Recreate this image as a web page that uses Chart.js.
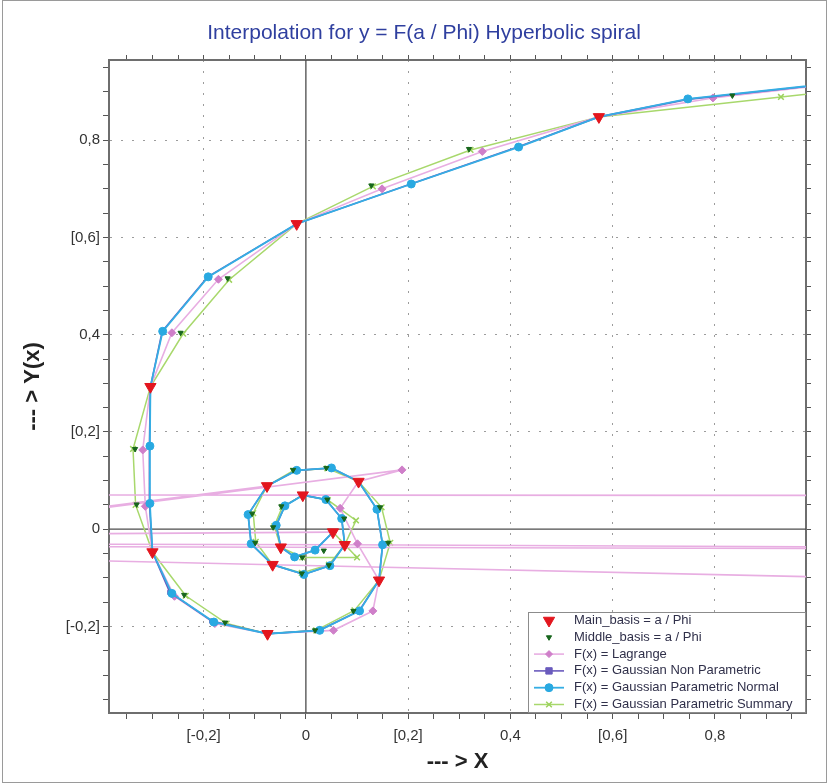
<!DOCTYPE html>
<html>
<head>
<meta charset="utf-8">
<script src="https://cdn.jsdelivr.net/npm/chart.js@4.4.1/dist/chart.umd.min.js"></script>
<style>
  html, body { margin: 0; padding: 0; background: #fff; }
  #wrap { width: 828px; height: 783px; }
</style>
</head>
<body>
<div id="wrap"><canvas id="spiralChart" width="828" height="783"></canvas></div>
<script>
// ============================================
// Interpolation for y = F(a / Phi) - hyperbolic spiral
// ============================================

// main basis points (the first one lies beyond the right edge)
const mainX = [1.742, 0.573, -0.018, -0.304, -0.300, -0.075, 0.143, 0.103, -0.076, -0.065, 0.076, -0.006, -0.049, 0.053];
const mainY = [0.958, 0.848, 0.628, 0.293, -0.047, -0.215, -0.105, 0.098, 0.089, -0.073, -0.032, 0.070, -0.037, -0.006];

// two middle points between each pair of main points
const middleX = [1.194, 0.834, 0.319, 0.128, -0.153, -0.245, -0.334, -0.331, -0.238, -0.158, 0.018, 0.093, 0.161, 0.145, 0.040, -0.025, -0.105, -0.099, -0.008, 0.045, 0.075, 0.042, -0.048, -0.064, -0.007, 0.035];
const middleY = [0.929, 0.892, 0.782, 0.707, 0.516, 0.404, 0.165, 0.051, -0.135, -0.192, -0.208, -0.168, -0.028, 0.045, 0.126, 0.122, 0.032, -0.028, -0.091, -0.074, 0.022, 0.061, 0.047, 0.004, -0.058, -0.044];

// Lagrange estimates (inner ones shoot far out of the window)
const lagrangeX = [1.19, 0.796, 0.345, 0.149, -0.171, -0.262, -0.319, -0.314, -0.257, -0.178, 0.054, 0.131, 0.101, 0.067, 0.188, -3.0, -3.0, -3.0, 3.0, 3.0, -3.0, -3.0, 3.0, 3.0, -3.0, -3.0];
const lagrangeY = [0.935, 0.887, 0.777, 0.700, 0.514, 0.404, 0.163, 0.047, -0.138, -0.194, -0.208, -0.168, -0.030, 0.043, 0.122, -0.305, -0.305, -0.003, -0.145, -0.045, -0.025, 0.072, 0.069, -0.045, -0.030, -0.028];

// Gaussian non parametric estimates
const nonParamX = [1.19, 0.747, 0.414, 0.205, -0.192, -0.281, -0.306, -0.306, -0.266, -0.184, 0.026, 0.104, 0.150, 0.139, 0.050, -0.018, -0.113, -0.107, -0.004, 0.047, 0.070, 0.039, -0.041, -0.058, -0.022, 0.018];
const nonParamY = [0.935, 0.884, 0.786, 0.710, 0.519, 0.407, 0.171, 0.053, -0.130, -0.189, -0.208, -0.168, -0.032, 0.041, 0.126, 0.121, 0.030, -0.030, -0.093, -0.075, 0.022, 0.061, 0.048, 0.008, -0.057, -0.043];

// Gaussian parametric normal estimates
const normalX = [1.19, 0.747, 0.416, 0.206, -0.191, -0.280, -0.305, -0.305, -0.262, -0.180, 0.027, 0.105, 0.150, 0.139, 0.050, -0.018, -0.113, -0.107, -0.004, 0.047, 0.070, 0.039, -0.041, -0.058, -0.022, 0.018];
const normalY = [0.935, 0.885, 0.786, 0.710, 0.519, 0.407, 0.171, 0.053, -0.132, -0.191, -0.208, -0.168, -0.032, 0.041, 0.126, 0.121, 0.030, -0.030, -0.093, -0.075, 0.022, 0.061, 0.048, 0.008, -0.057, -0.043];

// Gaussian parametric summary estimates
const summaryX = [1.20, 0.929, 0.322, 0.131, -0.150, -0.240, -0.338, -0.333, -0.235, -0.155, 0.020, 0.095, 0.165, 0.148, 0.042, -0.025, -0.103, -0.098, -0.008, 0.045, 0.098, 0.043, -0.046, -0.062, -0.007, 0.100];
const summaryY = [0.920, 0.889, 0.780, 0.705, 0.513, 0.402, 0.165, 0.050, -0.137, -0.194, -0.208, -0.167, -0.028, 0.045, 0.125, 0.120, 0.033, -0.026, -0.090, -0.073, 0.018, 0.060, 0.046, 0.006, -0.058, -0.058];

// tick labels as printed on both axes
const tickValues = [-0.2, 0, 0.2, 0.4, 0.6, 0.8];
const tickLabels = ['[-0,2]', '0', '[0,2]', '0,4', '[0,6]', '0,8'];

const seriesNames = [
    'Main_basis = a / Phi',
    'Middle_basis = a / Phi',
    'F(x) = Lagrange',
    'F(x) = Gaussian Non Parametric',
    'F(x) = Gaussian Parametric Normal',
    'F(x) = Gaussian Parametric Summary'
];

// points of a series
function toPoints(xs, ys) {
    return xs.map((x, i) => ({ x: x, y: ys[i] }));
}

// main point, middle, middle, main point ...
function buildPath(midX, midY) {
    const pts = [];
    for (let i = 0; i < mainX.length; i++) {
        pts.push({ x: mainX[i], y: mainY[i] });
        if (i < mainX.length - 1) {
            pts.push({ x: midX[2 * i], y: midY[2 * i] });
            pts.push({ x: midX[2 * i + 1], y: midY[2 * i + 1] });
        }
    }
    return pts;
}

function tickText(value) {
    const idx = tickValues.findIndex(t => Math.abs(t - value) < 1e-6);
    return idx >= 0 ? tickLabels[idx] : '';
}

function isGridValue(value) {
    return Math.abs(value) > 1e-6 && tickValues.some(t => Math.abs(t - value) < 1e-6);
}

// markers hidden on the main points of the interpolated paths
const midOnly = r => ctx => (ctx.dataIndex % 3 === 0 ? 0 : r);

// axis lines through zero
const zeroLines = {
    id: 'zeroLines',
    beforeDatasetsDraw(chart) {
        const { ctx, chartArea, scales } = chart;
        const x0 = scales.x.getPixelForValue(0);
        const y0 = scales.y.getPixelForValue(0);
        ctx.save();
        ctx.strokeStyle = '#4d4d4d';
        ctx.lineWidth = 1.3;
        ctx.beginPath();
        ctx.moveTo(x0, chartArea.top);
        ctx.lineTo(x0, chartArea.bottom);
        ctx.moveTo(chartArea.left, y0);
        ctx.lineTo(chartArea.right, y0);
        ctx.stroke();
        ctx.restore();
    }
};

// legend box in the lower right corner of the plot
const boxLegend = {
    id: 'boxLegend',
    afterDraw(chart) {
        const { ctx, chartArea } = chart;
        const w = 278, h = 101;
        const left = chartArea.right - w;
        const top = chartArea.bottom - h;
        ctx.save();
        ctx.fillStyle = '#fff';
        ctx.fillRect(left, top, w, h);
        ctx.strokeStyle = '#8c8c8c';
        ctx.lineWidth = 1;
        ctx.strokeRect(left + 0.5, top + 0.5, w - 1, h - 1);

        chart.data.datasets.forEach((ds, i) => {
            const y = top + 8.5 + i * 16.8;
            if (ds.showLine) {
                ctx.strokeStyle = ds.borderColor;
                ctx.lineWidth = ds.borderWidth;
                ctx.beginPath();
                ctx.moveTo(left + 6, y);
                ctx.lineTo(left + 36, y);
                ctx.stroke();
            }
            ctx.fillStyle = ds.pointBackgroundColor;
            ctx.strokeStyle = ds.pointBorderColor;
            ctx.lineWidth = ds.pointBorderWidth;
            Chart.helpers.drawPoint(ctx, {
                pointStyle: ds.pointStyle,
                radius: ds.legendRadius,
                rotation: ds.pointRotation || 0,
                borderWidth: ds.pointBorderWidth
            }, left + 21, y);
            ctx.fillStyle = '#30304a';
            ctx.font = '13px Arial, "Liberation Sans", sans-serif';
            ctx.textBaseline = 'middle';
            ctx.textAlign = 'left';
            ctx.fillText(ds.label, left + 46, y);
        });
        ctx.restore();
    }
};

// light frame round the whole picture
const outerFrame = {
    id: 'outerFrame',
    afterDraw(chart) {
        const { ctx, width, height } = chart;
        ctx.save();
        ctx.strokeStyle = '#9a9a9a';
        ctx.lineWidth = 1;
        ctx.strokeRect(2.5, 0.5, width - 4, height - 1);
        ctx.restore();
    }
};

const xRange = { min: -0.385, max: 0.978 };
const yRange = { min: -0.378, max: 0.965 };

const tickFont = { family: '"Liberation Sans Narrow", Arial, sans-serif', size: 15 };
const axisTitleFont = { size: 22, weight: 'bold', family: '"Liberation Sans Narrow", Arial, sans-serif' };

Chart.defaults.font.family = 'Arial, "Liberation Sans", sans-serif';

const spiralChart = new Chart(document.getElementById('spiralChart'), {
    type: 'scatter',
    data: {
        datasets: [
            {
                label: seriesNames[0],
                data: toPoints(mainX, mainY),
                showLine: false,
                pointStyle: 'triangle',
                pointRotation: 180,
                pointRadius: 6.5,
                legendRadius: 6.5,
                pointBackgroundColor: '#e3161e',
                pointBorderColor: '#e3161e',
                pointBorderWidth: 1,
                order: 0
            },
            {
                label: seriesNames[1],
                data: toPoints(middleX, middleY),
                showLine: false,
                pointStyle: 'triangle',
                pointRotation: 180,
                pointRadius: 3,
                legendRadius: 3,
                pointBackgroundColor: '#17661c',
                pointBorderColor: '#17661c',
                pointBorderWidth: 1,
                order: 1
            },
            {
                label: seriesNames[2],
                data: buildPath(lagrangeX, lagrangeY),
                showLine: true,
                borderColor: '#e8aee2',
                borderWidth: 1.6,
                pointStyle: 'rectRot',
                pointRadius: midOnly(4),
                legendRadius: 3.5,
                pointBackgroundColor: '#cf7fc9',
                pointBorderColor: '#cf7fc9',
                pointBorderWidth: 1,
                order: 4
            },
            {
                label: seriesNames[3],
                data: buildPath(nonParamX, nonParamY),
                showLine: true,
                borderColor: '#6a5bbd',
                borderWidth: 1.6,
                pointStyle: 'rect',
                pointRadius: midOnly(3),
                legendRadius: 4.5,
                pointBackgroundColor: '#6a5bbd',
                pointBorderColor: '#6a5bbd',
                pointBorderWidth: 1,
                order: 3
            },
            {
                label: seriesNames[4],
                data: buildPath(normalX, normalY),
                showLine: true,
                borderColor: '#35aee4',
                borderWidth: 1.8,
                pointStyle: 'circle',
                pointRadius: midOnly(4),
                legendRadius: 4,
                pointBackgroundColor: '#29a9e1',
                pointBorderColor: '#29a9e1',
                pointBorderWidth: 1,
                order: 2
            },
            {
                label: seriesNames[5],
                data: buildPath(summaryX, summaryY),
                showLine: true,
                borderColor: '#a8d86c',
                borderWidth: 1.5,
                pointStyle: 'crossRot',
                pointRadius: midOnly(4),
                legendRadius: 4,
                pointBackgroundColor: '#9cd25c',
                pointBorderColor: '#9cd25c',
                pointBorderWidth: 1.5,
                order: 5
            }
        ]
    },
    options: {
        responsive: false,
        animation: false,
        events: [],
        layout: { padding: { left: 20, right: 0, top: 0, bottom: 0 } },
        plugins: {
            legend: { display: false },
            tooltip: { enabled: false },
            title: {
                display: true,
                text: 'Interpolation for y = F(a / Phi) Hyperbolic spiral',
                color: '#2f3f9f',
                font: { size: 21, weight: 'normal' },
                padding: { top: 20.4, bottom: 0 }
            }
        },
        scales: {
            x: {
                type: 'linear',
                position: 'bottom',
                min: xRange.min,
                max: xRange.max,
                afterFit: s => { s.height = 70; },
                ticks: {
                    stepSize: 0.05,
                    maxTicksLimit: 40,
                    includeBounds: false,
                    autoSkip: false,
                    maxRotation: 0,
                    padding: 8,
                    color: '#333',
                    font: tickFont,
                    callback: v => tickText(v)
                },
                grid: {
                    color: c => (c.tick && isGridValue(c.tick.value) ? '#9c9c9c' : 'rgba(0,0,0,0)'),
                    lineWidth: 1,
                    tickLength: 6,
                    tickColor: '#555'
                },
                border: { display: true, color: '#6e6e6e', width: 2, dash: [2, 9] },
                title: {
                    display: true,
                    text: '--- > X',
                    color: '#222',
                    font: axisTitleFont,
                    padding: { top: 0, bottom: 8 }
                }
            },
            x2: {
                type: 'linear',
                position: 'top',
                min: xRange.min,
                max: xRange.max,
                afterFit: s => { s.height = 14.4; },
                ticks: {
                    stepSize: 0.05,
                    maxTicksLimit: 40,
                    includeBounds: false,
                    autoSkip: false,
                    maxRotation: 0,
                    callback: () => ''
                },
                grid: { drawOnChartArea: false, tickLength: 5, tickColor: '#555' },
                border: { display: true, color: '#6e6e6e', width: 2 }
            },
            y: {
                type: 'linear',
                position: 'left',
                min: yRange.min,
                max: yRange.max,
                afterFit: s => { s.width = 89; },
                ticks: {
                    stepSize: 0.05,
                    maxTicksLimit: 40,
                    includeBounds: false,
                    autoSkip: false,
                    padding: 3,
                    color: '#333',
                    font: tickFont,
                    callback: v => tickText(v)
                },
                grid: {
                    color: c => (c.tick && isGridValue(c.tick.value) ? '#9c9c9c' : 'rgba(0,0,0,0)'),
                    lineWidth: 1,
                    tickLength: 6,
                    tickColor: '#555'
                },
                border: { display: true, color: '#6e6e6e', width: 2, dash: [2, 9] },
                title: {
                    display: true,
                    text: '--- > Y(x)',
                    color: '#222',
                    font: axisTitleFont,
                    padding: { top: 0, bottom: 0 }
                }
            },
            y2: {
                type: 'linear',
                position: 'right',
                min: yRange.min,
                max: yRange.max,
                afterFit: s => { s.width = 22; },
                ticks: {
                    stepSize: 0.05,
                    maxTicksLimit: 40,
                    includeBounds: false,
                    autoSkip: false,
                    callback: () => ''
                },
                grid: { drawOnChartArea: false, tickLength: 5, tickColor: '#555' },
                border: { display: true, color: '#6e6e6e', width: 2 }
            }
        }
    },
    plugins: [zeroLines, boxLegend, outerFrame]
});
</script>
</body>
</html>
